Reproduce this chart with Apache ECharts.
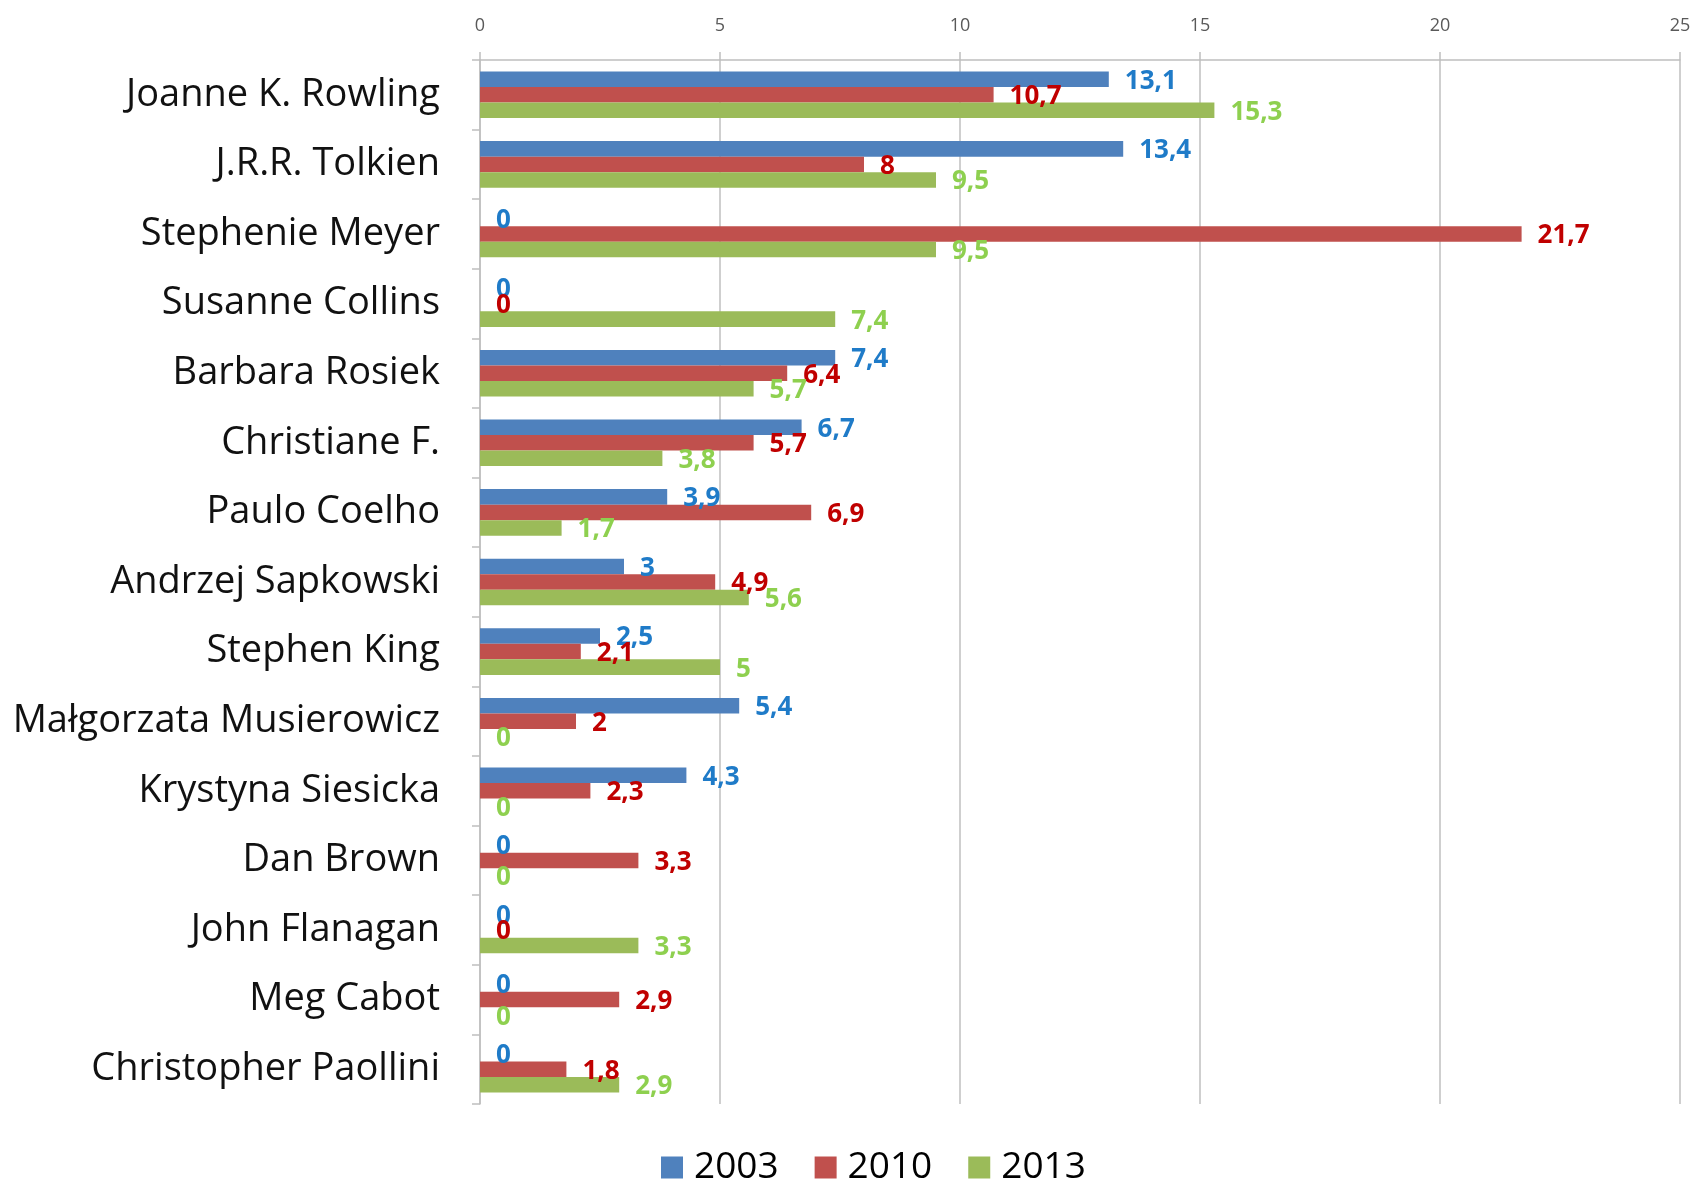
<!DOCTYPE html>
<html><head><meta charset="utf-8">
<script src="https://cdn.jsdelivr.net/npm/echarts@6/dist/echarts.min.js"></script>
<style>html,body{margin:0;padding:0;background:#fff}#c{width:1700px;height:1183px}</style>
</head><body><div id="c"></div>
<script>
const authors = ["Joanne K. Rowling","J.R.R. Tolkien","Stephenie Meyer","Susanne Collins","Barbara Rosiek","Christiane F.","Paulo Coelho","Andrzej Sapkowski","Stephen King","Małgorzata Musierowicz","Krystyna Siesicka","Dan Brown","John Flanagan","Meg Cabot","Christopher Paollini"];
const v2003 = [13.1,13.4,0,0,7.4,6.7,3.9,3,2.5,5.4,4.3,0,0,0,0];
const v2010 = [10.7,8,21.7,0,6.4,5.7,6.9,4.9,2.1,2,2.3,3.3,0,2.9,1.8];
const v2013 = [15.3,9.5,9.5,7.4,5.7,3.8,1.7,5.6,5,0,0,0,3.3,0,2.9];
const seriesNames = ["2003","2010","2013"];
const xTicks = [0,5,10,15,20,25];

const barColors = ["#4F81BD","#C0504D","#9BBB59"];
const labelColors = ["#1F7BC8","#C00000","#8ED04F"];
const font = "'Open Sans', 'Liberation Sans', sans-serif";
const fmt = p => String(p.value).replace('.', ',');
const data = [v2003, v2010, v2013];

const chart = echarts.init(document.getElementById('c'));
chart.setOption({
  animation:false,
  textStyle:{fontFamily:font},
  grid:{left:480,right:20,top:60,bottom:79,containLabel:false},
  legend:{bottom:-8,left:656,itemWidth:22,itemHeight:22,itemGap:36,icon:'rect',
    textStyle:{fontSize:37,color:'#000',fontFamily:font,padding:[0,0,0,6]}},
  xAxis:{type:'value',position:'top',min:xTicks[0],max:xTicks[xTicks.length-1],interval:5,
    axisLine:{show:true,lineStyle:{color:'#BFBFBF',width:1.5}},
    axisTick:{show:true,length:8,lineStyle:{color:'#BFBFBF',width:1.5}},
    axisLabel:{fontSize:18,color:'#595959',margin:25,fontFamily:font},
    splitLine:{show:true,lineStyle:{color:'#BFBFBF',width:1.5}}},
  yAxis:{type:'category',inverse:true,data:authors,
    axisLine:{show:true,lineStyle:{color:'#BFBFBF',width:1.5}},
    axisTick:{show:true,length:8,lineStyle:{color:'#BFBFBF',width:1.5}},
    axisLabel:{fontSize:38,color:'#111',margin:40,fontFamily:font}},
  series: seriesNames.map((n,i)=>({
    name:n,type:'bar',data:data[i],barGap:'0%',barCategoryGap:'33%',
    itemStyle:{color:barColors[i]},
    label:{show:true,position:'right',distance:16,offset:[0,2],formatter:fmt,
      color:labelColors[i],fontWeight:'bold',fontSize:26,fontFamily:font}
  }))
});
</script></body></html>
